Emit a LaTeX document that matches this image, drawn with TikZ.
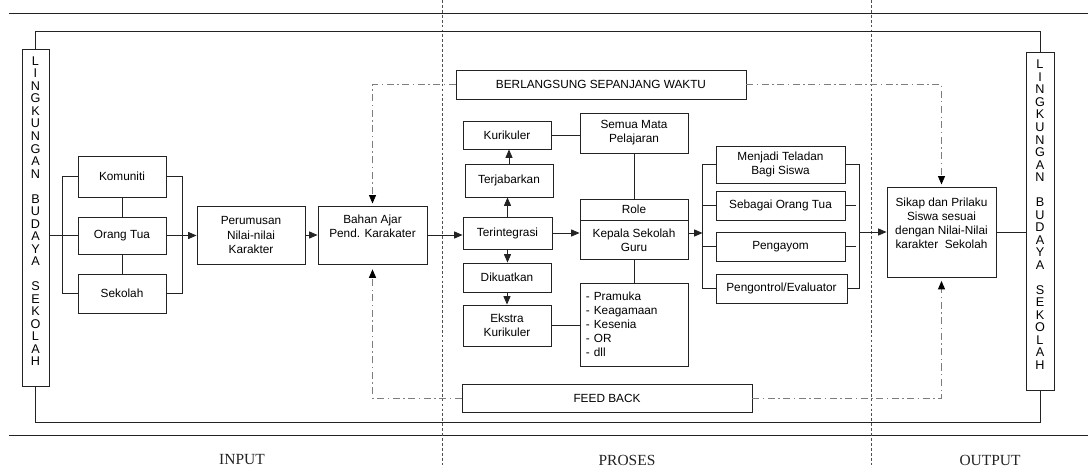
\documentclass[tikz,border=0pt]{standalone}
\usepackage{fontspec}
\setmainfont{Liberation Sans}
\newfontfamily\seriffont{Liberation Serif}
\usepackage{xcolor}
\usepackage{tikz}
\usetikzlibrary{positioning, calc, arrows.meta}
\definecolor{LineGray}{RGB}{35,35,35}
\definecolor{DashGray}{RGB}{125,125,125}
\definecolor{SepGray}{RGB}{80,80,80}
\tikzset{
    boxnode/.style 2 args={
        draw=LineGray, line width=0.6pt, minimum width=#1*0.025cm, minimum height=#2*0.025cm,
        inner sep=1pt, align=center, font=\fontsize{8.4}{10}\selectfont
    },
    bannernode/.style 2 args={
        draw=LineGray, line width=0.6pt, minimum width=#1*0.025cm, minimum height=#2*0.025cm,
        inner sep=0pt, align=center, font=\fontsize{9}{8.9}\selectfont
    },
    line/.style={
        draw=LineGray, line width=0.6pt
    },
    ptr/.style={
        line, -{Triangle[length=6pt, width=5pt]}
    },
    dashptr/.style={
        draw=DashGray, line width=0.6pt, dash pattern=on 5pt off 2.5pt on 1pt off 2.5pt,
        -{Triangle[length=6pt, width=5pt, color=black]}, shorten >=1.5pt
    },
    sepline/.style={
        draw=SepGray, line width=0.6pt, dash pattern=on 2pt off 1.5pt
    },
    rule/.style={
        draw=LineGray, line width=0.7pt
    },
    labelsec/.style={
        font=\seriffont\fontsize{11}{13}\selectfont, color=LineGray
    }
}

\begin{document}
\begin{tikzpicture}[x=0.025cm, y=-0.025cm]
    \useasboundingbox (0,0) rectangle (1088,468);
    \draw[rule] (9,13) -- (1088,13);
    \draw[rule] (9,435) -- (1088,435);
    \draw[sepline] (442,0) -- (442,468);
    \draw[sepline] (871,0) -- (871,468);
    \node[labelsec] (input) at (242,460) {INPUT};
    \node[labelsec] (proses) at (627,460) {PROSES};
    \node[labelsec] (output) at (990,460) {OUTPUT};

    \node[bannernode={27}{337}] (lbudaya) at (35.5,217.5)
        {L\\I\\N\\G\\K\\U\\N\\G\\A\\N\\~\\B\\U\\D\\A\\Y\\A\\~\\S\\E\\K\\O\\L\\A\\H\\~};
    \node[bannernode={28}{338}] (rbudaya) at (1040,221)
        {L\\I\\N\\G\\K\\U\\N\\G\\A\\N\\~\\B\\U\\D\\A\\Y\\A\\~\\S\\E\\K\\O\\L\\A\\H\\~};
    \draw[line] (lbudaya.north) -- ++(0,-17) -| (rbudaya.north);
    \draw[line] (lbudaya.south) -- ++(0,36) -| (rbudaya.south);

    % input
    \node[boxnode={88}{41}] (komuniti) at (122,176.5) {Komuniti};
    \node[boxnode={88}{37}] (orangtua) at (122,235.5) {Orang Tua};
    \node[boxnode={88}{39}] (sekolah) at (122,293.5) {Sekolah};
    \node[boxnode={108}{58}] (perumusan) at (251,235) {Perumusan\\Nilai-nilai\\Karakter};
    \node[boxnode={109}{58}] (bahanajar) at (372.5,235) {Bahan Ajar\\Pend. Karakater\\[3pt]~};
    \draw[line] (komuniti) -- (orangtua);
    \draw[line] (orangtua) -- (sekolah);
    \draw[line] (lbudaya.east |- orangtua.west) -- (orangtua.west);
    \draw[line] (komuniti.west) -- ++(-15,0) |- (sekolah.west);
    \draw[line] (komuniti.east) -- ++(16,0) |- (sekolah.east);
    \draw[ptr] (orangtua.east) -- (orangtua.east -| perumusan.west);
    \draw[ptr] (perumusan.east) -- (bahanajar.west);

    % proses
    \node[boxnode={290}{29}] (berlangsung) at (601,84.5) {BERLANGSUNG SEPANJANG WAKTU};
    \node[boxnode={88}{28}] (kurikuler) at (507,135) {Kurikuler};
    \node[boxnode={88}{33}] (terjabarkan) at (509,180.5) {Terjabarkan};
    \node[boxnode={89}{32}] (terintegrasi) at (507.5,233) {Terintegrasi};
    \node[boxnode={88}{29}] (dikuatkan) at (507,277.5) {Dikuatkan};
    \node[boxnode={88}{41}] (ekstra) at (507,325.5) {Ekstra\\Kurikuler};
    \node[boxnode={108}{40}] (semuamata) at (634,133) {Semua Mata\\Pelajaran};
    \node[boxnode={108}{21}] (role) at (634,209.5) {Role};
    \node[boxnode={108}{39}, below=0pt of role] (kepala) {Kepala Sekolah\\Guru};
    \node[boxnode={108}{83}, text width=2.4cm, align=left] (kegiatan) at (634,324.5)
        {- Pramuka\\- Keagamaan\\- Kesenia\\- OR\\- dll};
    \node[boxnode={290}{28}] (feedback) at (607,398) {FEED BACK};
    \draw[ptr] (bahanajar.east) -- (bahanajar.east -| terintegrasi.west);
    \draw[ptr] (terintegrasi.north) -- (terintegrasi.north |- terjabarkan.south);
    \draw[ptr] (terjabarkan.north) -- (terjabarkan.north |- kurikuler.south);
    \draw[ptr] (terintegrasi.south) -- (terintegrasi.south |- dikuatkan.north);
    \draw[ptr] (dikuatkan) -- (ekstra);
    \draw[line] (kurikuler.east) -- (kurikuler.east -| semuamata.west);
    \draw[line] (semuamata) -- (role);
    \draw[ptr] (terintegrasi.east) -- (terintegrasi.east -| kepala.west);
    \draw[line] (kepala) -- (kegiatan);
    \draw[line] (ekstra.east) -- (ekstra.east -| kegiatan.west);

    \node[boxnode={129}{37}] (teladan) at (780.5,164.5) {Menjadi Teladan\\Bagi Siswa};
    \node[boxnode={129}{29}] (orangtuasiswa) at (780.5,205.5) {Sebagai Orang Tua};
    \node[boxnode={129}{29}] (pengayom) at (780.5,246.5) {Pengayom};
    \node[boxnode={131}{29}] (pengontrol) at (781.5,288.5) {Pengontrol/Evaluator};
    \coordinate (forkin) at ($(teladan.west)+(-13,0)$);
    \coordinate (forkout) at ($(teladan.east)+(14,0)$);
    \draw[line] (teladan.west) -- (forkin) |- (pengontrol.west);
    \draw[line] (orangtuasiswa.west) -- (orangtuasiswa.west -| forkin);
    \draw[line] (pengayom.west) -- (pengayom.west -| forkin);
    \draw[line] (teladan.east) -- (forkout) |- (pengontrol.east);
    \draw[line] (orangtuasiswa.east) -- ++(11,0);
    \draw[line] (pengayom.east) -- ++(11,0);
    \draw[ptr] (kepala.east |- terintegrasi.east) -- (forkin |- terintegrasi.east);

    % output
    \node[boxnode={109}{90}] (sikap) at (941.5,232)
        {Sikap dan Prilaku\\Siswa sesuai\\dengan Nilai-Nilai\\karakter\ \ Sekolah\\[3pt]~};
    \draw[ptr] (forkout |- sikap.west) -- (sikap.west);
    \draw[line] (sikap.east) -- (sikap.east -| rbudaya.west);

    \draw[dashptr] (berlangsung.west) -| (bahanajar.north);
    \draw[dashptr] (berlangsung.east) -| (sikap.north);
    \draw[dashptr, shorten >=3.5pt] (feedback.west) -| (bahanajar.south);
    \draw[dashptr, shorten >=2.5pt] (feedback.east) -| (sikap.south);
\end{tikzpicture}
\end{document}
